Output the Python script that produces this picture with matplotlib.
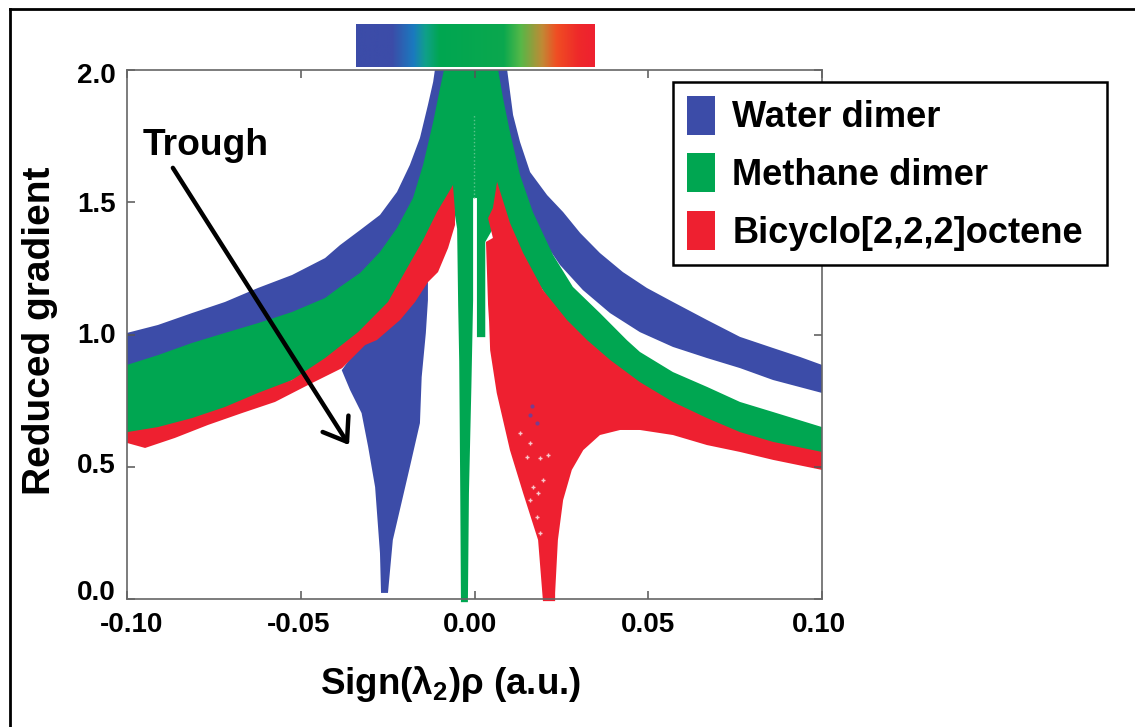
import numpy as np
import matplotlib
matplotlib.use("Agg")
import matplotlib.pyplot as plt
from matplotlib.colors import LinearSegmentedColormap
from matplotlib.lines import Line2D
from matplotlib.transforms import ScaledTranslation

plt.rcParams["font.family"] = ["Liberation Sans", "DejaVu Sans"]
plt.rcParams["font.weight"] = "bold"
plt.rcParams["axes.labelweight"] = "bold"
plt.rcParams["mathtext.fontset"] = "custom"
plt.rcParams["mathtext.bf"] = "Liberation Sans:bold"
plt.rcParams["mathtext.rm"] = "Liberation Sans:bold"

# outlines of the point clouds
water_x = [-0.10, -0.0911, -0.0813, -0.0718, -0.0623, -0.0525, -0.043, -0.0387, -0.0329, -0.0272, -0.0223,
           -0.0186, -0.0157, -0.0134, -0.0119, -0.0114,
           0.0094, 0.0111, 0.0131, 0.016, 0.0209, 0.0255, 0.0304, 0.0361, 0.0427, 0.0496, 0.0571, 0.0669,
           0.0764, 0.0859, 0.0937, 0.10,
           0.10, 0.0859, 0.0764, 0.0669, 0.0571, 0.0476, 0.039, 0.0312, 0.0246, 0.0197,
           0.012, 0.0, -0.0088, -0.0177, -0.0272, -0.0387, -0.0718, -0.10]
water_y = [1.006, 1.036, 1.081, 1.123, 1.176, 1.225, 1.289, 1.338, 1.395, 1.452, 1.539,
           1.641, 1.743, 1.868, 1.955, 2.0,
           2.0, 1.83, 1.728, 1.614, 1.527, 1.463, 1.384, 1.308, 1.236, 1.176, 1.123, 1.055,
           0.991, 0.949, 0.915, 0.885,
           0.779, 0.828, 0.873, 0.911, 0.953, 1.009, 1.081, 1.168, 1.263, 1.357,
           1.4, 1.8, 1.6, 1.40, 1.2, 1.05, 0.85, 0.75]

water_trough_x = [-0.0382, -0.0358, -0.0325, -0.0306, -0.0286, -0.0272, -0.0269,
                  -0.0249, -0.0235, -0.0186, -0.0157, -0.0152, -0.014, -0.0134, -0.0134, -0.02]
water_trough_y = [0.865, 0.79, 0.703, 0.575, 0.423, 0.173, 0.023,
                  0.023, 0.223, 0.499, 0.665, 0.839, 1.006, 1.13, 1.198, 1.2]

methane_x = [-0.10, -0.0911, -0.0813, -0.0718, -0.0623, -0.0525, -0.043, -0.0387, -0.0329, -0.0272, -0.0223,
             -0.0177, -0.0148, -0.0119, -0.0099, -0.0088,
             0.0068, 0.0082, 0.0102, 0.0131, 0.0168, 0.0203, 0.0226, 0.0283, 0.0361, 0.0439, 0.0476, 0.0571,
             0.0669, 0.0764, 0.0859, 0.10,
             0.10, 0.0764, 0.0476, 0.0266, 0.014, 0.0065, 0.0053, 0.0031, 0.0031, 0.0007, 0.0007,
             -0.0004, -0.0004, -0.0009, -0.0016, -0.0019, -0.0039, -0.0041, -0.0044, -0.0047, -0.005,
             -0.0062, -0.0079, -0.0148, -0.0249, -0.043, -0.0718, -0.10]
methane_y = [0.885, 0.922, 0.968, 1.006, 1.043, 1.085, 1.138, 1.18, 1.233, 1.312, 1.403,
             1.516, 1.641, 1.803, 1.932, 2.0,
             2.0, 1.894, 1.766, 1.603, 1.463, 1.365, 1.301, 1.18, 1.081, 0.978, 0.934, 0.858,
             0.802, 0.745, 0.707, 0.65,
             0.54, 0.62, 0.80, 1.03, 1.28, 1.50, 1.40, 1.35, 0.99, 0.99, 1.516,
             1.516, 1.13, 0.80, 0.40, -0.012, -0.012, 0.40, 0.90, 1.11, 1.40,
             1.50, 1.50, 1.33, 1.10, 0.89, 0.70, 0.61]

bicyclo_left_x = [-0.10, -0.0911, -0.0813, -0.0718, -0.0623, -0.0525, -0.043, -0.0335, -0.0249, -0.0194,
                  -0.0148, -0.0108, -0.0079, -0.0062,
                  -0.0056, -0.0056, -0.0076, -0.0105, -0.0134, -0.0171, -0.0214, -0.0281, -0.0315, -0.0381,
                  -0.0479, -0.0574, -0.0669, -0.0767, -0.0862, -0.0948, -0.10]
bicyclo_left_y = [0.631, 0.65, 0.684, 0.726, 0.779, 0.828, 0.911, 1.009, 1.123, 1.251,
                  1.357, 1.463, 1.527, 1.565,
                  1.463, 1.414, 1.327, 1.236, 1.198, 1.123, 1.055, 0.979, 0.96, 0.873,
                  0.809, 0.745, 0.703, 0.658, 0.609, 0.571, 0.59]

bicyclo_right_x = [0.0065, 0.0102, 0.014, 0.0197, 0.0266, 0.0324, 0.039, 0.0476, 0.0571, 0.0669, 0.0764, 0.0859, 0.10,
                   0.10, 0.0859, 0.0764, 0.0669, 0.0571, 0.0476, 0.0419, 0.0361, 0.0313, 0.028, 0.0255, 0.024,
                   0.0232, 0.0232,
                   0.0197, 0.0183, 0.014, 0.0102, 0.0064, 0.0045, 0.0042, 0.0039, 0.0033, 0.0053, 0.0039, 0.0053]
bicyclo_right_y = [1.577, 1.422, 1.308, 1.168, 1.055, 0.979, 0.904, 0.82, 0.745, 0.684, 0.631, 0.594, 0.556,
                   0.488, 0.526, 0.556, 0.582, 0.62, 0.639, 0.639, 0.62, 0.563, 0.488, 0.374, 0.223,
                   0.023, -0.008,
                   -0.008, 0.223, 0.40, 0.563, 0.779, 0.941, 1.05, 1.112, 1.35, 1.365, 1.44, 1.478]

# gaps in the red cloud and stray blue points inside it
gap_x = [0.0131, 0.016, 0.0151, 0.0188, 0.0212, 0.0168, 0.0197, 0.0183, 0.016, 0.018, 0.0188]
gap_y = [0.628, 0.59, 0.537, 0.533, 0.544, 0.423, 0.45, 0.401, 0.374, 0.31, 0.25]
stray_x = [0.016, 0.0165, 0.018]
stray_y = [0.696, 0.73, 0.665]

series_names = ["Water dimer", "Methane dimer", "Bicyclo[2,2,2]octene"]
xticks = [-0.10, -0.05, 0.00, 0.05, 0.10]
xtick_labels = ["-0.10", "-0.05", "0.00", "0.05", "0.10"]
yticks = [0.0, 0.5, 1.0, 1.5, 2.0]
ytick_labels = ["0.0", "0.5", "1.0", "1.5", "2.0"]

BLUE = "#3c4ca8"
GREEN = "#00a651"
RED = "#ee2030"
W, H = 1135, 727

fig = plt.figure(figsize=(W / 100, H / 100), dpi=100)
ax = fig.add_axes([127 / W, 1 - 599 / H, 695 / W, 529 / H])

ax.fill(water_x, water_y, color=BLUE, lw=0, label=series_names[0], clip_on=False)
ax.fill(water_trough_x, water_trough_y, color=BLUE, lw=0, clip_on=False)
ax.fill(methane_x, methane_y, color=GREEN, lw=0, label=series_names[1], clip_on=False)
ax.fill(bicyclo_left_x, bicyclo_left_y, color=RED, lw=0, label=series_names[2], clip_on=False)
ax.fill(bicyclo_right_x, bicyclo_right_y, color=RED, lw=0, clip_on=False)
ax.scatter(gap_x, gap_y, s=9, color="#f9c9cc", marker="+", linewidths=1)
ax.scatter(stray_x, stray_y, s=9, color="#7a3c8c", marker="o", linewidths=0)
# faint dotted seam above the gap
ax.plot([-0.0001, -0.0001], [1.516, 1.83], color="#5cc48c", lw=1, ls=":")

ax.set_xlim(-0.10, 0.10)
ax.set_ylim(0, 2.0)
ax.set_xticks(xticks, xtick_labels, fontsize=20)
ax.set_yticks(yticks, ytick_labels, fontsize=20)
ax.tick_params(axis="both", direction="in", length=6, width=1.1, color="#555555", top=True, right=True)
ax.tick_params(axis="x", pad=9)
ax.tick_params(axis="y", pad=8)
for spine in ax.spines.values():
    spine.set_color("#666666")
    spine.set_linewidth(1.2)

# the tick labels are not quite on their ticks in the original
for label, dx in zip(ax.get_xticklabels(), [5, -2, -4, 0, -3]):
    label.set_transform(label.get_transform() + ScaledTranslation(dx / 100, 0, fig.dpi_scale_trans))
for label, dy in zip(ax.get_yticklabels(), [9, 4, 1.5, 0, -3]):
    label.set_transform(label.get_transform() + ScaledTranslation(0, dy / 100, fig.dpi_scale_trans))

ax.set_ylabel("Reduced gradient", fontsize=28, va="center")
ax.yaxis.set_label_coords((40 - 127) / 695, (599 - 331) / 529)
ax.set_xlabel("Sign(λ$_{\\mathbf{2}}$)ρ (a.u.)", fontsize=26.5, va="center")
ax.xaxis.set_label_coords((451 - 127) / 695, (599 - 684) / 529)

ax.text(-0.0954, 1.716, "Trough", fontsize=26.8, va="center", ha="left")
ax.annotate("", xy=(-0.0361, 0.582), xytext=(-0.0868, 1.63),
            arrowprops=dict(arrowstyle="->,head_length=0.7,head_width=0.5", color="black", lw=3.2,
                            mutation_scale=22, shrinkA=0, shrinkB=0))

legend = ax.legend(loc="upper left", bbox_to_anchor=(673 / W, 1 - 268 / H, 434 / W, 186 / H),
                   bbox_transform=fig.transFigure, mode="expand", borderaxespad=0, fontsize=26.1,
                   fancybox=False, framealpha=1, edgecolor="black", borderpad=0.38,
                   handlelength=0.77, handleheight=1.27, handletextpad=0.49, labelspacing=0.5)
legend.get_frame().set_linewidth(1.8)

# colour bar above the axes
cmap = LinearSegmentedColormap.from_list("bar", [
    (0.0, BLUE), (0.15, BLUE), (0.24, "#1a7abf"), (0.29, "#10a08a"), (0.35, GREEN), (0.62, "#0ba84e"),
    (0.69, "#55b848"), (0.78, "#c08a35"), (0.84, "#f04e23"), (0.93, "#ee2a2a"), (1.0, RED)])
cax = fig.add_axes([356 / W, 1 - 67 / H, 238.5 / W, 43 / H])
cax.imshow(np.linspace(0, 1, 256)[None, :], cmap=cmap, aspect="auto")
cax.axis("off")

# frame lines of the pasted figure
fig.add_artist(Line2D([10 / W, 1], [1 - 8.5 / H, 1 - 8.5 / H], color="black", lw=2))
fig.add_artist(Line2D([10 / W, 10 / W], [0, 1 - 8.5 / H], color="black", lw=2))

fig.savefig("out.png", dpi=100)
